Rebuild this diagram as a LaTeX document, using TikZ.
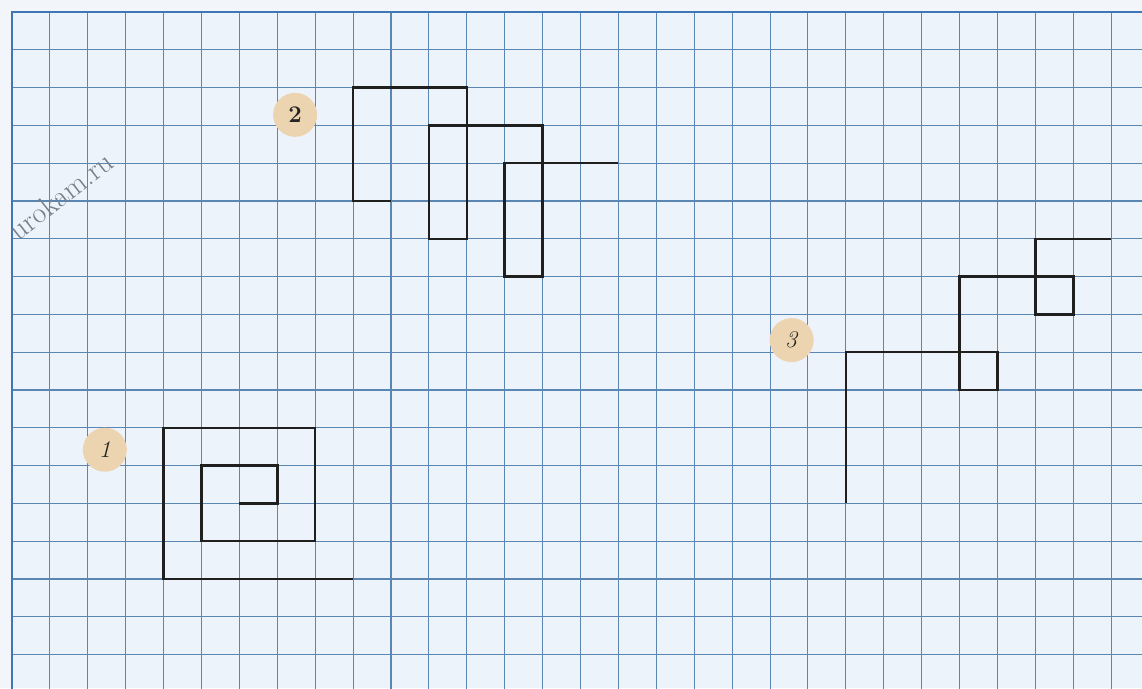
\documentclass[tikz,border=0pt]{standalone}
\definecolor{paper}{RGB}{236,243,250}
\definecolor{margin}{RGB}{242,246,251}
\definecolor{gridblue}{RGB}{92,134,178}
\definecolor{borderblue}{RGB}{62,118,182}
\definecolor{badge}{RGB}{236,212,176}
\definecolor{wmark}{RGB}{118,126,138}
\tikzset{
  gridline/.style={draw=gridblue, line width=0.75pt},
  borderline/.style={draw=borderblue, line width=1.9pt},
  figline/.style={draw=black!88, line width=1.8pt, line join=miter, line cap=butt},
  badgenode/.style={circle, fill=badge, minimum size=11mm, inner sep=0pt, font=\fontsize{17}{17}\selectfont, text=black!85}
}
\begin{document}
\begin{tikzpicture}[x=0.25mm, y=-0.25mm]
  % page
  \fill[margin] (0,0) rectangle (1142,688);
  \useasboundingbox (0,0) rectangle (1142,688);
  \fill[paper] (12,12) rectangle (1142,688);
  \begin{scope}[shift={(12,12)}, x=9.475mm, y=-9.45mm]
    % grid
    \foreach \i in {1,...,29} { \draw[gridline] (\i,0) -- (\i,17.9); }
    \foreach \j in {1,...,17} { \draw[gridline] (0,\j) -- (29.85,\j); }
    \draw[borderline] (0,17.9) -- (0,0) -- (29.85,0);
    % figure 1
    \draw[figline] (6,13) -- (7,13) -- (7,12) -- (5,12) -- (5,14) -- (8,14) -- (8,11) -- (4,11) -- (4,15) -- (9,15);
    % figure 2
    \draw[figline] (10,5) -- (9,5) -- (9,2) -- (12,2) -- (12,6) -- (11,6) -- (11,3) -- (14,3) -- (14,7) -- (13,7) -- (13,4) -- (16,4);
    % figure 3
    \draw[figline] (22,13) -- (22,9) -- (26,9) -- (26,10) -- (25,10) -- (25,7) -- (28,7) -- (28,8) -- (27,8) -- (27,6) -- (29,6);
    % labels
    \node[badgenode] (l1) at (2.45,11.58) {\textit{1}};
    \node[badgenode] (l2) at (7.47,2.72) {\textbf{2}};
    \node[badgenode] (l3) at (20.57,8.68) {\textit{3}};
  \end{scope}
  % watermark
  \node[anchor=south east, rotate=38, text=wmark, font=\fontsize{21}{21}\selectfont, inner sep=0pt] (wm) at (116,166) {urokam.ru};
\end{tikzpicture}
\end{document}
